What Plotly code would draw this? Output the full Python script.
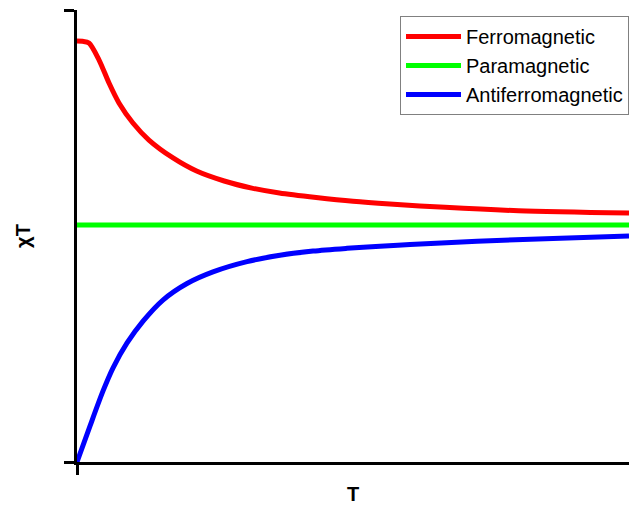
import plotly.graph_objects as go

# Temperature (arbitrary units) and chi*T values
T_ferro = [0, 3.0, 6.5, 12.0, 17.4, 22.8, 30.4, 39.1, 52.2, 65, 80, 95, 110, 130, 150, 170, 200, 240, 300]
chiT_ferro = [2.794, 2.792, 2.781, 2.668, 2.515, 2.383, 2.250, 2.137, 2.018, 1.931, 1.865, 1.818, 1.785, 1.755, 1.730, 1.712, 1.690, 1.668, 1.652]

T_para = [0, 300]
chiT_para = [1.573, 1.573]

T_antiferro = [0, 7.1, 14.1, 19.6, 27.2, 35.9, 46.7, 59.8, 73.9, 92.4, 110.3, 128.3, 146.7, 164.7, 181.0, 217.4, 258.7, 300]
chiT_antiferro = [0, 0.240, 0.470, 0.625, 0.790, 0.935, 1.075, 1.185, 1.262, 1.330, 1.372, 1.400, 1.418, 1.432, 1.444, 1.465, 1.484, 1.500]

fig = go.Figure()
fig.add_trace(go.Scatter(x=T_ferro, y=chiT_ferro, mode="lines", name="Ferromagnetic",
                         line=dict(color="#ff0000", width=5, shape="spline", smoothing=0.8)))
fig.add_trace(go.Scatter(x=T_para, y=chiT_para, mode="lines", name="Paramagnetic",
                         line=dict(color="#00ff00", width=5)))
fig.add_trace(go.Scatter(x=T_antiferro, y=chiT_antiferro, mode="lines", name="Antiferromagnetic",
                         line=dict(color="#0000ff", width=5, shape="spline", smoothing=0.8)))

fig.update_layout(
    width=629, height=508,
    margin=dict(l=77, r=0, t=10, b=46),
    plot_bgcolor="white", paper_bgcolor="white",
    font=dict(family="Liberation Sans, Arial", color="black"),
    legend=dict(x=1, y=0.987, xanchor="right", yanchor="top",
                bordercolor="#808080", borderwidth=1, bgcolor="white",
                font=dict(size=20), itemwidth=55, tracegroupgap=0),
    xaxis=dict(range=[0, 300], showgrid=False, zeroline=False, showline=True,
               linecolor="black", linewidth=3, ticks="outside", tickvals=[0],
               ticklen=10, tickwidth=3, tickcolor="black", showticklabels=False,
               title=dict(text="<b>T</b>", font=dict(size=20), standoff=13)),
    yaxis=dict(range=[0, 3], showgrid=False, zeroline=False, showline=True,
               linecolor="black", linewidth=3, ticks="outside", tickvals=[0, 3],
               ticklen=10, tickwidth=3, tickcolor="black", showticklabels=False,
               title=dict(text="<b>χT</b>", font=dict(size=20), standoff=29)),
)

fig.write_html("out.html")
